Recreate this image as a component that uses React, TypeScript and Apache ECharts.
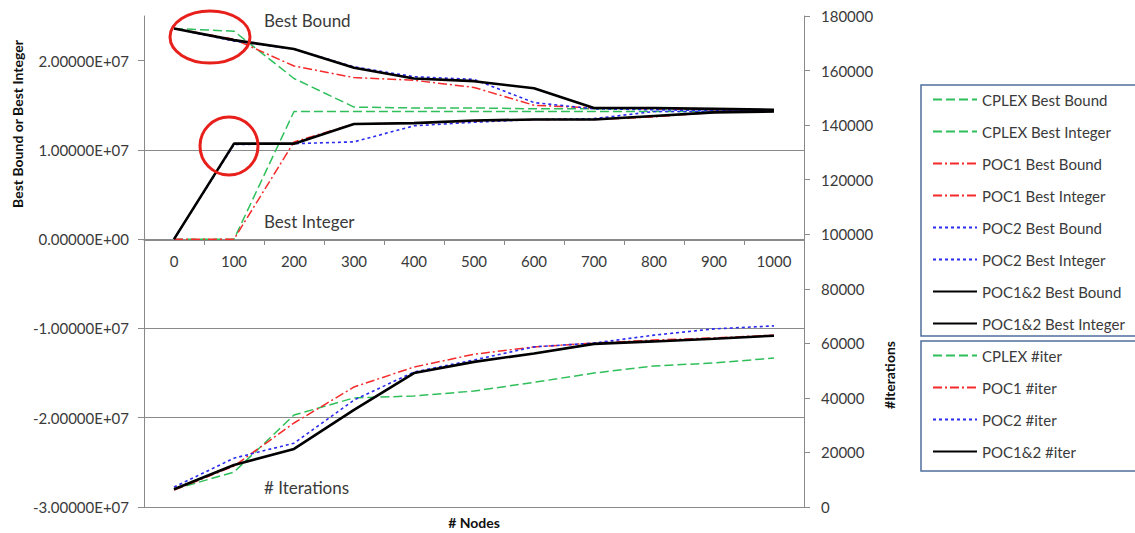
import React, { useEffect, useRef } from "react";
import * as echarts from "echarts";

// ---------- data ----------
const nodes = ["0", "100", "200", "300", "400", "500", "600", "700", "800", "900", "1000"];

// Best bound / best integer (left axis)
const cplexBestBound = [2.36e7, 2.33e7, 1.8e7, 1.48e7, 1.47e7, 1.47e7, 1.46e7, 1.46e7, 1.46e7, 1.45e7, 1.45e7];
const cplexBestInteger = [0, 0, 1.43e7, 1.43e7, 1.43e7, 1.43e7, 1.43e7, 1.43e7, 1.43e7, 1.43e7, 1.43e7];
const poc1BestBound = [2.36e7, 2.24e7, 1.94e7, 1.81e7, 1.78e7, 1.7e7, 1.5e7, 1.47e7, 1.46e7, 1.45e7, 1.44e7];
const poc1BestInteger = [0, 0, 1.09e7, 1.29e7, 1.3e7, 1.32e7, 1.34e7, 1.34e7, 1.37e7, 1.42e7, 1.43e7];
const poc2BestBound = [2.36e7, 2.22e7, 2.13e7, 1.93e7, 1.82e7, 1.79e7, 1.53e7, 1.46e7, 1.45e7, 1.44e7, 1.44e7];
const poc2BestInteger = [0, 1.06e7, 1.07e7, 1.09e7, 1.27e7, 1.31e7, 1.34e7, 1.35e7, 1.43e7, 1.43e7, 1.44e7];
const poc12BestBound = [2.36e7, 2.23e7, 2.13e7, 1.92e7, 1.8e7, 1.77e7, 1.69e7, 1.47e7, 1.47e7, 1.46e7, 1.45e7];
const poc12BestInteger = [0, 1.07e7, 1.07e7, 1.29e7, 1.3e7, 1.33e7, 1.34e7, 1.34e7, 1.38e7, 1.42e7, 1.43e7];

// iterations (right axis)
const cplexIter = [6500, 12800, 33700, 40000, 40700, 42500, 45700, 49100, 51700, 52800, 54600];
const poc1Iter = [6200, 15000, 30800, 44000, 51300, 56000, 58700, 60100, 61200, 62000, 63000];
const poc2Iter = [7300, 17900, 23400, 39200, 49500, 53900, 58700, 60100, 63000, 65300, 66400];
const poc12Iter = [6500, 15400, 21300, 35600, 49100, 53200, 56300, 59800, 60700, 61700, 62800];

const legendBounds = [
  "CPLEX Best Bound",
  "CPLEX Best Integer",
  "POC1 Best Bound",
  "POC1 Best Integer",
  "POC2 Best Bound",
  "POC2 Best Integer",
  "POC1&2 Best Bound",
  "POC1&2 Best Integer",
];
const legendIter = ["CPLEX #iter", "POC1 #iter", "POC2 #iter", "POC1&2 #iter"];

// ---------- styles ----------
const FONT = "Lato, 'Noto Sans', sans-serif";
const TXT = "#3a3a3a";
const GRID = "#8a8a8a";
const GREEN = "#2fbf5a";
const RED = "#f52a2a";
const BLUE = "#2a2af0";
const BLACK = "#000000";

const styleFor = (kind: string) => {
  if (kind === "cplex") return { color: GREEN, width: 1.5, type: [9, 4] };
  if (kind === "poc1") return { color: RED, width: 1.5, type: [9, 3, 2, 3] };
  if (kind === "poc2") return { color: BLUE, width: 1.6, type: [3, 3] };
  return { color: BLACK, width: 2.6, type: "solid" };
};

const sci = (v: number) => {
  const [m, e] = v.toExponential(5).split("e");
  const sign = e[0] === "-" ? "-" : "+";
  const digits = e.replace(/[+-]/, "").padStart(2, "0");
  return `${m}E${sign}${digits}`;
};

export default function App() {
  const ref = useRef<HTMLDivElement>(null);

  useEffect(() => {
    if (!ref.current) return;
    const chart = echarts.init(ref.current, undefined, { renderer: "svg" });

    const mk = (name: string, kind: string, data: number[], yIdx: number) => {
      const ls = styleFor(kind);
      return {
        name,
        type: "line",
        data,
        yAxisIndex: yIdx,
        symbol: "none",
        showSymbol: false,
        smooth: false,
        color: ls.color,
        lineStyle: { color: ls.color, width: ls.width, type: ls.type as any },
        z: kind === "poc12" ? 5 : 3,
      };
    };

    const legendBase = {
      orient: "vertical",
      left: 921,
      itemWidth: 44,
      itemHeight: 14,
      itemGap: 17,
      borderColor: "#4f6f9c",
      borderWidth: 1.5,
      textStyle: { color: TXT, fontSize: 15, fontFamily: FONT, lineHeight: 14 },
      itemStyle: { opacity: 0 },
      selectedMode: false,
    };

    const option: any = {
      animation: false,
      backgroundColor: "#ffffff",
      textStyle: { fontFamily: FONT },
      grid: { left: 144, right: 331, top: 16, bottom: 26, containLabel: false },
      xAxis: {
        type: "category",
        data: nodes,
        position: "bottom",
        offset: -267,
        boundaryGap: true,
        axisLine: { onZero: false, lineStyle: { color: GRID, width: 1 } },
        axisTick: { show: true, length: 5, alignWithLabel: false, lineStyle: { color: GRID } },
        axisLabel: { color: TXT, fontSize: 15, fontFamily: FONT, margin: 13 },
        splitLine: { show: false },
      },
      yAxis: [
        {
          type: "value",
          position: "left",
          min: -3e7,
          max: 2.5e7,
          interval: 1e7,
          axisLine: { show: true, onZero: false, lineStyle: { color: GRID } },
          axisTick: {
            show: true,
            length: 6,
            lineStyle: { color: GRID },
            customValues: [-3e7, -2e7, -1e7, 0, 1e7, 2e7],
          },
          axisLabel: {
            color: TXT,
            fontSize: 15,
            fontFamily: FONT,
            margin: 15,
            showMaxLabel: false,
            formatter: (v: number) => (v > 2.2e7 ? "" : sci(v)),
          },
          splitLine: { show: true, showMaxLine: false, lineStyle: { color: GRID, width: 1 } },
        },
        {
          type: "value",
          position: "right",
          min: 0,
          max: 180000,
          interval: 20000,
          axisLine: { show: true, onZero: false, lineStyle: { color: GRID } },
          axisTick: { show: true, length: 6, lineStyle: { color: GRID } },
          axisLabel: {
            color: TXT,
            fontSize: 15,
            fontFamily: FONT,
            margin: 17,
            formatter: (v: number) => String(v),
          },
          splitLine: { show: false },
        },
      ],
      legend: [
        { ...legendBase, data: legendBounds, top: 85, padding: [7, 12, 5, 11] },
        { ...legendBase, data: legendIter, top: 341, padding: [7, 60, 12, 11] },
      ],
      graphic: [
        {
          type: "text",
          x: 17,
          y: 124,
          rotation: Math.PI / 2,
          style: {
            text: "Best Bound or Best Integer",
            font: `bold 14px ${FONT}`,
            fill: "#111",
            align: "center",
            verticalAlign: "middle",
          },
        },
        {
          type: "text",
          x: 889,
          y: 375,
          rotation: Math.PI / 2,
          style: {
            text: "#Iterations",
            font: `bold 14px ${FONT}`,
            fill: "#111",
            align: "center",
            verticalAlign: "middle",
          },
        },
        {
          type: "text",
          x: 474,
          y: 522,
          style: {
            text: "# Nodes",
            font: `bold 14px ${FONT}`,
            fill: "#111",
            align: "center",
            verticalAlign: "middle",
          },
        },
        {
          type: "text",
          x: 264,
          y: 20,
          style: { text: "Best Bound", font: `17px ${FONT}`, fill: TXT, align: "left", verticalAlign: "middle" },
        },
        {
          type: "text",
          x: 264,
          y: 221,
          style: { text: "Best Integer", font: `17px ${FONT}`, fill: TXT, align: "left", verticalAlign: "middle" },
        },
        {
          type: "text",
          x: 264,
          y: 487,
          style: { text: "# Iterations", font: `17px ${FONT}`, fill: TXT, align: "left", verticalAlign: "middle" },
        },
        {
          type: "ellipse",
          shape: { cx: 210, cy: 37, rx: 40, ry: 26 },
          style: { fill: "none", stroke: "#e8201c", lineWidth: 3 },
          z: 100,
        },
        {
          type: "ellipse",
          shape: { cx: 229, cy: 146, rx: 29, ry: 29 },
          style: { fill: "none", stroke: "#e8201c", lineWidth: 3 },
          z: 100,
        },
      ],
      series: [
        mk("CPLEX Best Bound", "cplex", cplexBestBound, 0),
        mk("CPLEX Best Integer", "cplex", cplexBestInteger, 0),
        mk("POC1 Best Bound", "poc1", poc1BestBound, 0),
        mk("POC1 Best Integer", "poc1", poc1BestInteger, 0),
        mk("POC2 Best Bound", "poc2", poc2BestBound, 0),
        mk("POC2 Best Integer", "poc2", poc2BestInteger, 0),
        mk("POC1&2 Best Bound", "poc12", poc12BestBound, 0),
        mk("POC1&2 Best Integer", "poc12", poc12BestInteger, 0),
        mk("CPLEX #iter", "cplex", cplexIter, 1),
        mk("POC1 #iter", "poc1", poc1Iter, 1),
        mk("POC2 #iter", "poc2", poc2Iter, 1),
        mk("POC1&2 #iter", "poc12", poc12Iter, 1),
      ],
    };

    chart.setOption(option);
    return () => chart.dispose();
  }, []);

  return <div ref={ref} style={{ width: 1135, height: 533, position: "absolute", left: 0, top: 0 }} />;
}
